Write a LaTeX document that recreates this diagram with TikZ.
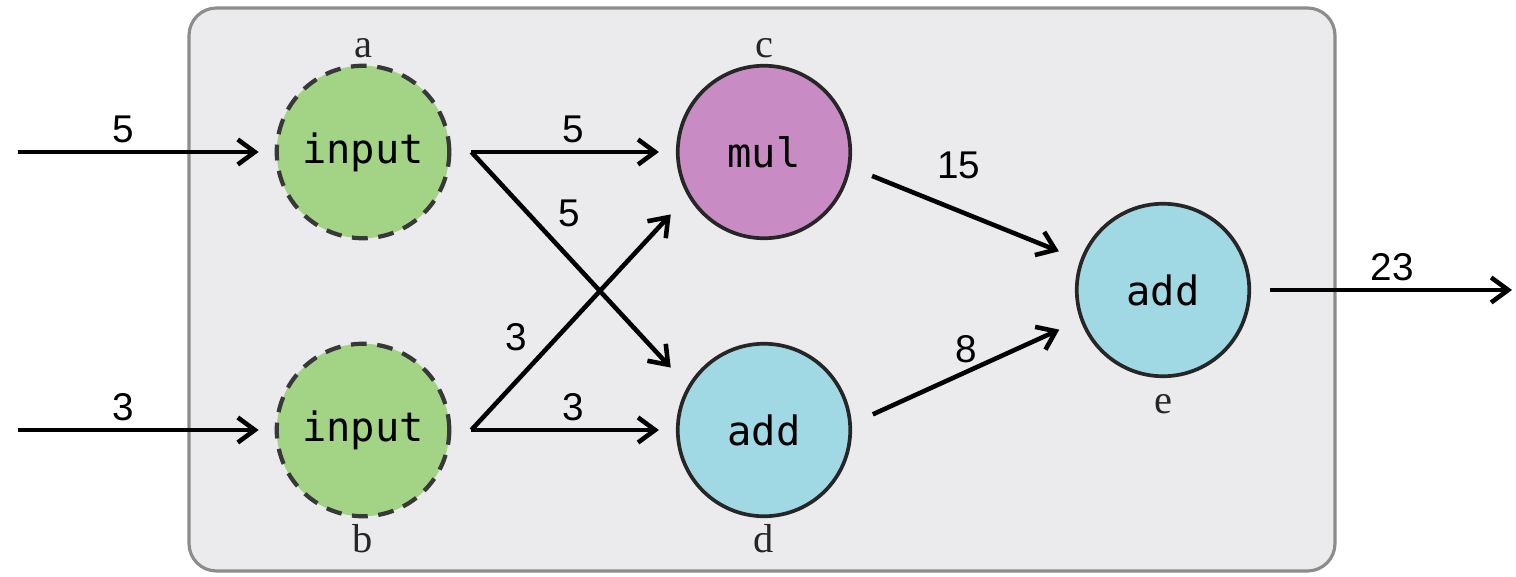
\documentclass[tikz,border=0pt]{standalone}
\usepackage{fontspec}
\setmainfont{Liberation Serif}
\newfontfamily\numfont{Liberation Sans}
\newfontfamily\opfont{DejaVu Sans Mono}
\usepackage{tikz}
\usetikzlibrary{arrows.meta}
\definecolor{boxgray}{HTML}{EBEBED}
\definecolor{boxline}{HTML}{8C8C8C}
\definecolor{inpgreen}{HTML}{A3D384}
\definecolor{mulpink}{HTML}{C98BC4}
\definecolor{addcyan}{HTML}{A0D8E4}

\begin{document}
\begin{tikzpicture}
\tikzstyle{inp}=[circle, minimum size=3.45cm, line width=2.4pt, dash pattern=on 9pt off 6pt, draw=black!78, fill=inpgreen, font=\opfont\fontsize{23}{27}\selectfont]
\tikzstyle{op}=[circle, minimum size=3.45cm, line width=2.1pt, draw=black!85, font=\opfont\fontsize{23}{27}\selectfont]
\tikzstyle{lbl}=[font=\fontsize{23}{27}\selectfont, text=black!85]
\tikzstyle{num}=[font=\numfont\fontsize{22}{26}\selectfont, inner sep=4pt]
\tikzstyle{connect}=[-{Straight Barb[length=3.4mm, width=5mm]}, line width=2.6pt]
\useasboundingbox (0,0) rectangle (30.32,-11.52);
\draw[fill=boxgray, draw=boxline, line width=1.8pt, rounded corners=0.55cm] (3.78,-0.16) rectangle (26.7,-11.42);
	\node[inp] (n_a) at (7.26,-3.04) [label={[lbl]above:a}] {input};
	\node[inp] (n_b) at (7.26,-8.6) [label={[lbl]below:b}] {input};
	\node[op, fill=mulpink] (n_c) at (15.28,-3.04) [label={[lbl]above:c}] {mul};
	\node[op, fill=addcyan] (n_d) at (15.28,-8.6) [label={[lbl]below:d}] {add};
	\node[op, fill=addcyan] (n_e) at (23.26,-5.8) [label={[lbl, label distance=0.2cm]below:e}] {add};

	\coordinate (in_a) at (0.36,-3.04);
	\coordinate (in_b) at (0.36,-8.6);
	\coordinate (out_e) at (30.24,-5.8);
	\coordinate (a_o) at ([xshift=0.4cm]n_a.east);
	\coordinate (b_o) at ([xshift=0.4cm]n_b.east);

	\path
		(in_a) edge [connect, shorten >=0.32cm] node[num, pos=0.41, above] {5} (n_a)
		(in_b) edge [connect, shorten >=0.32cm] node[num, pos=0.41, above] {3} (n_b)
		(a_o) edge [connect, shorten >=0.34cm] node[num, above] {5} (n_c.west)
		(a_o) edge [connect, shorten >=0.5cm] node[num, pos=0.36, above right] {5} (n_d.150)
		(b_o) edge [connect, shorten >=0.5cm] node[num, pos=0.3, above left] {3} (n_c.210)
		(b_o) edge [connect, shorten >=0.34cm] node[num, above] {3} (n_d.west)
		(n_c.-10) edge [connect, shorten <=0.46cm, shorten >=0.46cm] node[num, pos=0.47, above=0.46cm] {15} (n_e.160)
		(n_d.4) edge [connect, shorten <=0.46cm, shorten >=0.46cm] node[num, above] {8} (n_e.200)
		(n_e.east) edge [connect, shorten <=0.38cm] node[num, pos=0.54, above] {23} (out_e);

\end{tikzpicture}
\end{document}
